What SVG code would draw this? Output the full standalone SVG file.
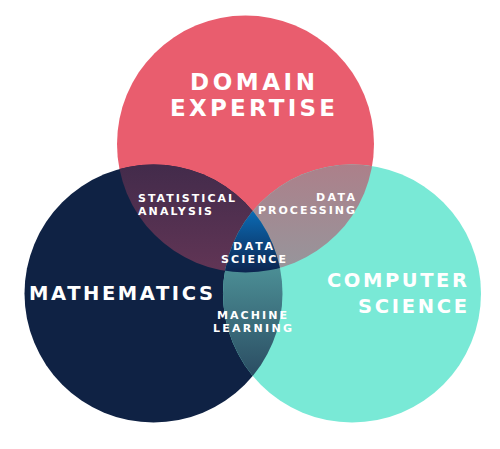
<svg xmlns="http://www.w3.org/2000/svg" width="500" height="449" viewBox="0 0 500 449">
  <defs>
    <clipPath id="clipP"><circle cx="245.5" cy="144" r="128.5"/></clipPath>
    <clipPath id="clipN"><circle cx="153.5" cy="293.5" r="129"/></clipPath>
    <clipPath id="clipT"><circle cx="352" cy="293.5" r="129"/></clipPath>
    <linearGradient id="gStat" x1="0" y1="165" x2="0" y2="272" gradientUnits="userSpaceOnUse">
      <stop offset="0" stop-color="#432B4B"/>
      <stop offset="1" stop-color="#613555"/>
    </linearGradient>
    <linearGradient id="gProc" x1="0" y1="165" x2="0" y2="272" gradientUnits="userSpaceOnUse">
      <stop offset="0" stop-color="#AC808A"/>
      <stop offset="1" stop-color="#96969C"/>
    </linearGradient>
    <linearGradient id="gML" x1="0" y1="270" x2="0" y2="378" gradientUnits="userSpaceOnUse">
      <stop offset="0" stop-color="#4B8D94"/>
      <stop offset="1" stop-color="#2A4C62"/>
    </linearGradient>
    <linearGradient id="gDS" x1="0" y1="210" x2="0" y2="272" gradientUnits="userSpaceOnUse">
      <stop offset="0" stop-color="#0B6CB6"/>
      <stop offset="1" stop-color="#0C2550"/>
    </linearGradient>
    <style>
      text { font-family: "DejaVu Sans", "Inter", "Liberation Sans", sans-serif; font-weight: 700; fill: #FFFFFF; }
      .big { font-size: 23px; }
      .mid { font-size: 19.5px; }
      .small { font-size: 11px; }
    </style>
  </defs>

  <g id="domain-expertise">
    <circle cx="245.5" cy="144" r="128.5" fill="#E95D6E"/>
  </g>
  <g id="mathematics">
    <circle cx="153.5" cy="293.5" r="129" fill="#0F2244"/>
  </g>
  <g id="computer-science">
    <circle cx="352" cy="293.5" r="129" fill="#79E9D6"/>
  </g>
  <g id="statistical-analysis">
    <circle cx="153.5" cy="293.5" r="129" fill="url(#gStat)" clip-path="url(#clipP)"/>
  </g>
  <g id="data-processing">
    <circle cx="352" cy="293.5" r="129" fill="url(#gProc)" clip-path="url(#clipP)"/>
  </g>
  <g id="machine-learning">
    <circle cx="352" cy="293.5" r="129" fill="url(#gML)" clip-path="url(#clipN)"/>
  </g>
  <g id="data-science">
    <g clip-path="url(#clipN)">
      <circle cx="352" cy="293.5" r="129" fill="url(#gDS)" clip-path="url(#clipP)"/>
    </g>
  </g>

  <g id="labels">
    <text class="big" x="190" y="90" textLength="125" lengthAdjust="spacing">DOMAIN</text>
    <text class="big" x="170" y="116" textLength="165" lengthAdjust="spacing">EXPERTISE</text>
    <text class="mid" x="29" y="300" textLength="184" lengthAdjust="spacing">MATHEMATICS</text>
    <text class="mid" x="327" y="287" textLength="140" lengthAdjust="spacing">COMPUTER</text>
    <text class="mid" x="358" y="313" textLength="109" lengthAdjust="spacing">SCIENCE</text>
    <text class="small" x="138" y="202" textLength="97" lengthAdjust="spacing">STATISTICAL</text>
    <text class="small" x="138" y="215" textLength="74" lengthAdjust="spacing">ANALYSIS</text>
    <text class="small" x="316" y="201" textLength="39" lengthAdjust="spacing">DATA</text>
    <text class="small" x="258" y="214" textLength="97" lengthAdjust="spacing">PROCESSING</text>
    <text class="small" x="233" y="250" textLength="40" lengthAdjust="spacing">DATA</text>
    <text class="small" x="221" y="263" textLength="65" lengthAdjust="spacing">SCIENCE</text>
    <text class="small" x="217" y="319" textLength="70" lengthAdjust="spacing">MACHINE</text>
    <text class="small" x="213" y="332" textLength="79" lengthAdjust="spacing">LEARNING</text>
  </g>
</svg>
